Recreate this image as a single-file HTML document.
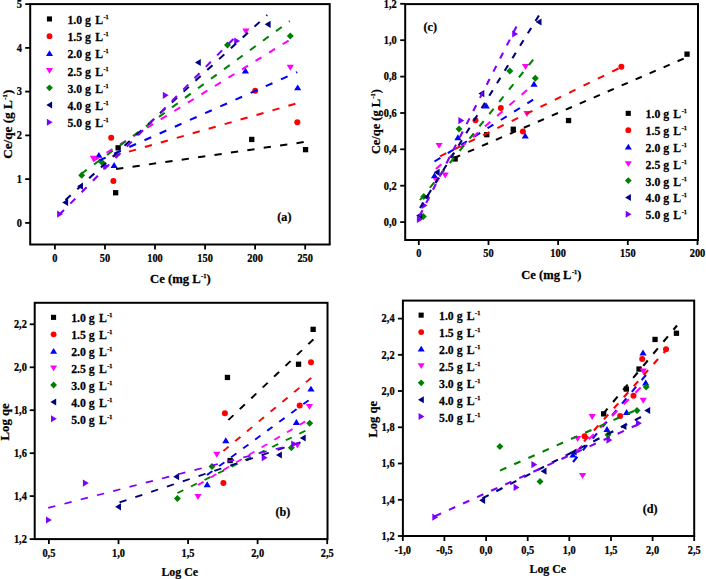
<!DOCTYPE html>
<html><head><meta charset="utf-8"><style>
html,body{margin:0;padding:0;background:#fff;width:706px;height:579px;overflow:hidden}
svg{display:block}
text{font-family:"Liberation Serif",serif;font-weight:bold;fill:#000;stroke:#000;stroke-width:0.25px}
.tk{font-size:11.8px}
.ti{font-size:13.2px}
.pl{font-size:12.5px}
.lg{font-size:12.8px}
.sup{font-size:6.8px}
</style></head><body>
<svg width="706" height="579" viewBox="0 0 706 579">
<rect width="706" height="579" fill="#fff"/>
<rect x="113.0" y="190.1" width="5.3" height="5.3" fill="#000000"/>
<rect x="115.5" y="145.2" width="5.3" height="5.3" fill="#000000"/>
<rect x="249.1" y="136.8" width="5.3" height="5.3" fill="#000000"/>
<rect x="302.9" y="147.0" width="5.3" height="5.3" fill="#000000"/>
<circle cx="111.2" cy="137.8" r="3.0" fill="#FF0000"/>
<circle cx="113.4" cy="181.1" r="3.0" fill="#FF0000"/>
<circle cx="255.2" cy="90.7" r="3.0" fill="#FF0000"/>
<circle cx="297.3" cy="122.2" r="3.0" fill="#FF0000"/>
<path d="M98.9 151.9L102.5 157.8H95.3Z" fill="#0000FF"/>
<path d="M114.1 162.0L117.7 167.9H110.5Z" fill="#0000FF"/>
<path d="M245.4 67.5L249.0 73.4H241.8Z" fill="#0000FF"/>
<path d="M297.7 84.4L301.3 90.3H294.1Z" fill="#0000FF"/>
<path d="M93.4 161.7L97.0 155.8H89.8Z" fill="#FF00FF"/>
<path d="M245.9 34.4L249.5 28.5H242.3Z" fill="#FF00FF"/>
<path d="M290.3 70.7L293.9 64.8H286.7Z" fill="#FF00FF"/>
<path d="M81.7 171.7L85.2 175.2L81.7 178.7L78.2 175.2Z" fill="#008000"/>
<path d="M101.8 158.8L105.3 162.3L101.8 165.8L98.3 162.3Z" fill="#008000"/>
<path d="M227.5 41.4L231.0 44.9L227.5 48.4L224.0 44.9Z" fill="#008000"/>
<path d="M290.3 32.4L293.8 35.9L290.3 39.4L286.8 35.9Z" fill="#008000"/>
<path d="M62.2 202.4L68.1 198.8V206.0Z" fill="#000080"/>
<path d="M77.1 186.2L83.0 182.6V189.8Z" fill="#000080"/>
<path d="M194.9 62.5L200.8 58.9V66.1Z" fill="#000080"/>
<path d="M264.7 24.3L270.6 20.7V27.9Z" fill="#000080"/>
<path d="M63.0 214.1L57.1 210.5V217.7Z" fill="#8000FF"/>
<path d="M109.0 166.2L103.1 162.6V169.8Z" fill="#8000FF"/>
<path d="M168.7 95.3L162.8 91.7V98.9Z" fill="#8000FF"/>
<path d="M240.1 41.0L234.2 37.4V44.6Z" fill="#8000FF"/>
<g transform="scale(1,0.95)" stroke-width="2.1" stroke-dasharray="7.3 9.3">
<line x1="116.1" y1="178.00" x2="303.7" y2="149.58" stroke="#000000" stroke-dasharray="7.294 9.292"/>
<line x1="113" y1="164.42" x2="295.4" y2="109.26" stroke="#FF0000" stroke-dasharray="7.325 9.332"/>
<line x1="99" y1="168.95" x2="297.2" y2="76.00" stroke="#0000FF" stroke-dasharray="7.365 9.382"/>
<line x1="93" y1="169.58" x2="288.6" y2="42.74" stroke="#FF00FF" stroke-dasharray="7.100 9.045"/>
<line x1="81" y1="183.16" x2="289.8" y2="22.21" stroke="#008000" stroke-dasharray="7.218 9.196"/>
<line x1="65.5" y1="210.53" x2="267.2" y2="15.79" stroke="#000080" stroke-dasharray="7.222 9.200"/>
<line x1="59" y1="226.32" x2="233.4" y2="41.05" stroke="#8000FF" stroke-dasharray="7.247 9.232"/>
</g>
<rect x="30.2" y="4.1" width="299.5" height="240.4" fill="none" stroke="#000" stroke-width="2"/>
<line x1="54.9" y1="244.5" x2="54.9" y2="249.5" stroke="#000" stroke-width="1.8"/>
<text transform="translate(54.90,261.90) scale(0.88,1)" class="tk" text-anchor="middle">0</text>
<line x1="105.0" y1="244.5" x2="105.0" y2="249.5" stroke="#000" stroke-width="1.8"/>
<text transform="translate(104.96,261.90) scale(0.88,1)" class="tk" text-anchor="middle">50</text>
<line x1="155.0" y1="244.5" x2="155.0" y2="249.5" stroke="#000" stroke-width="1.8"/>
<text transform="translate(155.02,261.90) scale(0.88,1)" class="tk" text-anchor="middle">100</text>
<line x1="205.1" y1="244.5" x2="205.1" y2="249.5" stroke="#000" stroke-width="1.8"/>
<text transform="translate(205.08,261.90) scale(0.88,1)" class="tk" text-anchor="middle">150</text>
<line x1="255.1" y1="244.5" x2="255.1" y2="249.5" stroke="#000" stroke-width="1.8"/>
<text transform="translate(255.14,261.90) scale(0.88,1)" class="tk" text-anchor="middle">200</text>
<line x1="305.2" y1="244.5" x2="305.2" y2="249.5" stroke="#000" stroke-width="1.8"/>
<text transform="translate(305.20,261.90) scale(0.88,1)" class="tk" text-anchor="middle">250</text>
<line x1="25.2" y1="222.9" x2="30.2" y2="222.9" stroke="#000" stroke-width="1.8"/>
<text transform="translate(22.00,226.70) scale(0.88,1)" class="tk" text-anchor="end">0</text>
<line x1="25.2" y1="179.1" x2="30.2" y2="179.1" stroke="#000" stroke-width="1.8"/>
<text transform="translate(22.00,182.94) scale(0.88,1)" class="tk" text-anchor="end">1</text>
<line x1="25.2" y1="135.4" x2="30.2" y2="135.4" stroke="#000" stroke-width="1.8"/>
<text transform="translate(22.00,139.18) scale(0.88,1)" class="tk" text-anchor="end">2</text>
<line x1="25.2" y1="91.6" x2="30.2" y2="91.6" stroke="#000" stroke-width="1.8"/>
<text transform="translate(22.00,95.42) scale(0.88,1)" class="tk" text-anchor="end">3</text>
<line x1="25.2" y1="47.9" x2="30.2" y2="47.9" stroke="#000" stroke-width="1.8"/>
<text transform="translate(22.00,51.66) scale(0.88,1)" class="tk" text-anchor="end">4</text>
<line x1="25.2" y1="4.1" x2="30.2" y2="4.1" stroke="#000" stroke-width="1.8"/>
<text transform="translate(22.00,7.90) scale(0.88,1)" class="tk" text-anchor="end">5</text>
<text transform="translate(180.40,283.10) scale(0.96,1)" class="ti" text-anchor="middle">Ce (mg L<tspan class="sup" dx="0.5" dy="-5.0">-1</tspan><tspan dy="5.0">)</tspan></text>
<text transform="translate(12.40,124.20) rotate(-90) scale(1.0,1)" class="ti" text-anchor="middle">Ce/qe (g L<tspan class="sup" dx="0.5" dy="-5.0">-1</tspan><tspan dy="5.0">)</tspan></text>
<text transform="translate(284.40,220.60) scale(0.97,1)" class="pl" text-anchor="middle">(a)</text>
<rect x="46.9" y="16.4" width="5.1" height="5.1" fill="#000000"/>
<text transform="translate(67.40,24.00) scale(0.92,1)" class="lg" text-anchor="start">1.0 g <tspan dx="1.4">L</tspan><tspan class="sup" dx="0.5" dy="-5.0">-1</tspan></text>
<circle cx="49.5" cy="36.2" r="2.9" fill="#FF0000"/>
<text transform="translate(67.40,41.20) scale(0.92,1)" class="lg" text-anchor="start">1.5 g <tspan dx="1.4">L</tspan><tspan class="sup" dx="0.5" dy="-5.0">-1</tspan></text>
<path d="M49.5 50.2L53.0 56.0H46.0Z" fill="#0000FF"/>
<text transform="translate(67.40,58.40) scale(0.92,1)" class="lg" text-anchor="start">2.0 g <tspan dx="1.4">L</tspan><tspan class="sup" dx="0.5" dy="-5.0">-1</tspan></text>
<path d="M49.5 73.8L53.0 68.0H46.0Z" fill="#FF00FF"/>
<text transform="translate(67.40,75.60) scale(0.92,1)" class="lg" text-anchor="start">2.5 g <tspan dx="1.4">L</tspan><tspan class="sup" dx="0.5" dy="-5.0">-1</tspan></text>
<path d="M49.5 84.4L52.9 87.8L49.5 91.2L46.1 87.8Z" fill="#008000"/>
<text transform="translate(67.40,92.80) scale(0.92,1)" class="lg" text-anchor="start">3.0 g <tspan dx="1.4">L</tspan><tspan class="sup" dx="0.5" dy="-5.0">-1</tspan></text>
<path d="M46.3 105.0L52.1 101.5V108.5Z" fill="#000080"/>
<text transform="translate(67.40,110.00) scale(0.92,1)" class="lg" text-anchor="start">4.0 g <tspan dx="1.4">L</tspan><tspan class="sup" dx="0.5" dy="-5.0">-1</tspan></text>
<path d="M52.7 122.2L46.9 118.7V125.7Z" fill="#8000FF"/>
<text transform="translate(67.40,127.20) scale(0.92,1)" class="lg" text-anchor="start">5.0 g <tspan dx="1.4">L</tspan><tspan class="sup" dx="0.5" dy="-5.0">-1</tspan></text>
<rect x="452.5" y="156.3" width="5.3" height="5.3" fill="#000000"/>
<rect x="484.1" y="132.0" width="5.3" height="5.3" fill="#000000"/>
<rect x="510.6" y="126.6" width="5.3" height="5.3" fill="#000000"/>
<rect x="565.9" y="117.9" width="5.3" height="5.3" fill="#000000"/>
<rect x="684.4" y="51.5" width="5.3" height="5.3" fill="#000000"/>
<circle cx="475.5" cy="120.2" r="3.0" fill="#FF0000"/>
<circle cx="500.8" cy="108.1" r="3.0" fill="#FF0000"/>
<circle cx="522.9" cy="131.5" r="3.0" fill="#FF0000"/>
<circle cx="621.4" cy="66.7" r="3.0" fill="#FF0000"/>
<path d="M434.5 172.4L438.1 178.3H430.9Z" fill="#0000FF"/>
<path d="M457.9 134.3L461.5 140.2H454.3Z" fill="#0000FF"/>
<path d="M486.2 102.6L489.8 108.5H482.6Z" fill="#0000FF"/>
<path d="M525.2 132.7L528.8 138.6H521.6Z" fill="#0000FF"/>
<path d="M534.0 80.8L537.6 86.7H530.4Z" fill="#0000FF"/>
<path d="M436.6 183.8L440.2 177.9H433.0Z" fill="#FF00FF"/>
<path d="M445.2 178.5L448.8 172.6H441.6Z" fill="#FF00FF"/>
<path d="M439.1 148.8L442.7 142.9H435.5Z" fill="#FF00FF"/>
<path d="M525.5 69.9L529.1 64.0H521.9Z" fill="#FF00FF"/>
<path d="M527.0 116.9L530.6 111.0H523.4Z" fill="#FF00FF"/>
<path d="M423.3 213.1L426.8 216.6L423.3 220.1L419.8 216.6Z" fill="#008000"/>
<path d="M423.8 193.1L427.3 196.6L423.8 200.1L420.3 196.6Z" fill="#008000"/>
<path d="M459.0 125.5L462.5 129.0L459.0 132.5L455.5 129.0Z" fill="#008000"/>
<path d="M509.8 67.5L513.3 71.0L509.8 74.5L506.3 71.0Z" fill="#008000"/>
<path d="M535.3 74.8L538.8 78.3L535.3 81.8L531.8 78.3Z" fill="#008000"/>
<path d="M416.2 215.6L422.1 212.0V219.2Z" fill="#000080"/>
<path d="M423.3 197.1L429.2 193.5V200.7Z" fill="#000080"/>
<path d="M433.7 172.3L439.6 168.7V175.9Z" fill="#000080"/>
<path d="M478.4 93.6L484.3 90.0V97.2Z" fill="#000080"/>
<path d="M535.6 22.0L541.5 18.4V25.6Z" fill="#000080"/>
<path d="M422.8 219.4L416.9 215.8V223.0Z" fill="#8000FF"/>
<path d="M427.6 205.5L421.7 201.9V209.1Z" fill="#8000FF"/>
<path d="M464.3 120.6L458.4 117.0V124.2Z" fill="#8000FF"/>
<path d="M518.1 34.0L512.2 30.4V37.6Z" fill="#8000FF"/>
<g transform="scale(1,0.95)" stroke-width="2.1" stroke-dasharray="6.9 8.8">
<line x1="454" y1="166.32" x2="683.7" y2="61.68" stroke="#000000" stroke-dasharray="6.748 8.606"/>
<line x1="440" y1="164.53" x2="618.5" y2="72.11" stroke="#FF0000" stroke-dasharray="7.102 9.057"/>
<line x1="434.5" y1="170.00" x2="533.2" y2="104.95" stroke="#0000FF" stroke-dasharray="6.983 8.906"/>
<line x1="436" y1="177.89" x2="527" y2="94.74" stroke="#FF00FF" stroke-dasharray="7.282 9.288"/>
<line x1="420" y1="210.53" x2="533.2" y2="62.84" stroke="#008000" stroke-dasharray="7.149 9.117"/>
<line x1="420" y1="218.95" x2="538.9" y2="16.21" stroke="#000080" stroke-dasharray="6.690 8.532"/>
<line x1="419.5" y1="227.37" x2="516.5" y2="27.89" stroke="#8000FF" stroke-dasharray="6.751 8.610"/>
</g>
<rect x="405.2" y="4.1" width="292.8" height="235.9" fill="none" stroke="#000" stroke-width="2"/>
<line x1="418.8" y1="240" x2="418.8" y2="245" stroke="#000" stroke-width="1.8"/>
<text transform="translate(418.80,256.80) scale(0.88,1)" class="tk" text-anchor="middle">0</text>
<line x1="488.5" y1="240" x2="488.5" y2="245" stroke="#000" stroke-width="1.8"/>
<text transform="translate(488.48,256.80) scale(0.88,1)" class="tk" text-anchor="middle">50</text>
<line x1="558.1" y1="240" x2="558.1" y2="245" stroke="#000" stroke-width="1.8"/>
<text transform="translate(558.15,256.80) scale(0.88,1)" class="tk" text-anchor="middle">100</text>
<line x1="627.8" y1="240" x2="627.8" y2="245" stroke="#000" stroke-width="1.8"/>
<text transform="translate(627.83,256.80) scale(0.88,1)" class="tk" text-anchor="middle">150</text>
<line x1="697.5" y1="240" x2="697.5" y2="245" stroke="#000" stroke-width="1.8"/>
<text transform="translate(697.50,256.80) scale(0.88,1)" class="tk" text-anchor="middle">200</text>
<line x1="400.2" y1="222.1" x2="405.2" y2="222.1" stroke="#000" stroke-width="1.8"/>
<text transform="translate(396.80,225.90) scale(0.88,1)" class="tk" text-anchor="end">0,0</text>
<line x1="400.2" y1="185.7" x2="405.2" y2="185.7" stroke="#000" stroke-width="1.8"/>
<text transform="translate(396.80,189.52) scale(0.88,1)" class="tk" text-anchor="end">0,2</text>
<line x1="400.2" y1="149.3" x2="405.2" y2="149.3" stroke="#000" stroke-width="1.8"/>
<text transform="translate(396.80,153.14) scale(0.88,1)" class="tk" text-anchor="end">0,4</text>
<line x1="400.2" y1="113.0" x2="405.2" y2="113.0" stroke="#000" stroke-width="1.8"/>
<text transform="translate(396.80,116.76) scale(0.88,1)" class="tk" text-anchor="end">0,6</text>
<line x1="400.2" y1="76.6" x2="405.2" y2="76.6" stroke="#000" stroke-width="1.8"/>
<text transform="translate(396.80,80.38) scale(0.88,1)" class="tk" text-anchor="end">0,8</text>
<line x1="400.2" y1="40.2" x2="405.2" y2="40.2" stroke="#000" stroke-width="1.8"/>
<text transform="translate(396.80,44.00) scale(0.88,1)" class="tk" text-anchor="end">1,0</text>
<line x1="400.2" y1="3.8" x2="405.2" y2="3.8" stroke="#000" stroke-width="1.8"/>
<text transform="translate(396.80,7.62) scale(0.88,1)" class="tk" text-anchor="end">1,2</text>
<text transform="translate(551.40,279.00) scale(0.95,1)" class="ti" text-anchor="middle">Ce (mg L<tspan class="sup" dx="0.5" dy="-5.0">-1</tspan><tspan dy="5.0">)</tspan></text>
<text transform="translate(379.50,121.60) rotate(-90) scale(0.94,1)" class="ti" text-anchor="middle">Ce/qe (g L<tspan class="sup" dx="0.5" dy="-5.0">-1</tspan><tspan dy="5.0">)</tspan></text>
<text transform="translate(430.20,31.00) scale(0.97,1)" class="pl" text-anchor="middle">(c)</text>
<rect x="625.7" y="110.8" width="5.1" height="5.1" fill="#000000"/>
<text transform="translate(645.60,118.40) scale(0.92,1)" class="lg" text-anchor="start">1.0 g <tspan dx="1.4">L</tspan><tspan class="sup" dx="0.5" dy="-5.0">-1</tspan></text>
<circle cx="628.3" cy="130.2" r="2.9" fill="#FF0000"/>
<text transform="translate(645.60,135.20) scale(0.92,1)" class="lg" text-anchor="start">1.5 g <tspan dx="1.4">L</tspan><tspan class="sup" dx="0.5" dy="-5.0">-1</tspan></text>
<path d="M628.3 143.8L631.8 149.6H624.8Z" fill="#0000FF"/>
<text transform="translate(645.60,152.00) scale(0.92,1)" class="lg" text-anchor="start">2.0 g <tspan dx="1.4">L</tspan><tspan class="sup" dx="0.5" dy="-5.0">-1</tspan></text>
<path d="M628.3 167.0L631.8 161.2H624.8Z" fill="#FF00FF"/>
<text transform="translate(645.60,168.80) scale(0.92,1)" class="lg" text-anchor="start">2.5 g <tspan dx="1.4">L</tspan><tspan class="sup" dx="0.5" dy="-5.0">-1</tspan></text>
<path d="M628.3 177.2L631.7 180.6L628.3 184.0L624.9 180.6Z" fill="#008000"/>
<text transform="translate(645.60,185.60) scale(0.92,1)" class="lg" text-anchor="start">3.0 g <tspan dx="1.4">L</tspan><tspan class="sup" dx="0.5" dy="-5.0">-1</tspan></text>
<path d="M625.1 197.4L630.9 193.9V200.9Z" fill="#000080"/>
<text transform="translate(645.60,202.40) scale(0.92,1)" class="lg" text-anchor="start">4.0 g <tspan dx="1.4">L</tspan><tspan class="sup" dx="0.5" dy="-5.0">-1</tspan></text>
<path d="M631.5 214.2L625.7 210.7V217.7Z" fill="#8000FF"/>
<text transform="translate(645.60,219.20) scale(0.92,1)" class="lg" text-anchor="start">5.0 g <tspan dx="1.4">L</tspan><tspan class="sup" dx="0.5" dy="-5.0">-1</tspan></text>
<rect x="224.8" y="374.8" width="5.3" height="5.3" fill="#000000"/>
<rect x="227.5" y="457.9" width="5.3" height="5.3" fill="#000000"/>
<rect x="295.9" y="361.6" width="5.3" height="5.3" fill="#000000"/>
<rect x="310.5" y="326.7" width="5.3" height="5.3" fill="#000000"/>
<circle cx="224.9" cy="413.2" r="3.0" fill="#FF0000"/>
<circle cx="223.4" cy="483.0" r="3.0" fill="#FF0000"/>
<circle cx="299.7" cy="405.5" r="3.0" fill="#FF0000"/>
<circle cx="311.0" cy="362.3" r="3.0" fill="#FF0000"/>
<path d="M225.8 437.3L229.4 443.2H222.2Z" fill="#0000FF"/>
<path d="M207.2 481.3L210.8 487.2H203.6Z" fill="#0000FF"/>
<path d="M296.4 419.0L300.0 424.9H292.8Z" fill="#0000FF"/>
<path d="M311.0 385.7L314.6 391.6H307.4Z" fill="#0000FF"/>
<path d="M216.8 457.7L220.4 451.8H213.2Z" fill="#FF00FF"/>
<path d="M198.0 500.0L201.6 494.1H194.4Z" fill="#FF00FF"/>
<path d="M309.4 409.8L313.0 403.9H305.8Z" fill="#FF00FF"/>
<path d="M297.4 448.6L301.0 442.7H293.8Z" fill="#FF00FF"/>
<path d="M177.4 495.0L180.9 498.5L177.4 502.0L173.9 498.5Z" fill="#008000"/>
<path d="M212.0 463.0L215.5 466.5L212.0 470.0L208.5 466.5Z" fill="#008000"/>
<path d="M291.4 444.3L294.9 447.8L291.4 451.3L287.9 447.8Z" fill="#008000"/>
<path d="M309.7 419.8L313.2 423.3L309.7 426.8L306.2 423.3Z" fill="#008000"/>
<path d="M115.1 506.8L121.0 503.2V510.4Z" fill="#000080"/>
<path d="M173.2 476.7L179.1 473.1V480.3Z" fill="#000080"/>
<path d="M276.0 455.0L281.9 451.4V458.6Z" fill="#000080"/>
<path d="M299.8 438.0L305.7 434.4V441.6Z" fill="#000080"/>
<path d="M51.9 520.0L46.0 516.4V523.6Z" fill="#8000FF"/>
<path d="M88.8 483.1L82.9 479.5V486.7Z" fill="#8000FF"/>
<path d="M267.6 457.7L261.7 454.1V461.3Z" fill="#8000FF"/>
<path d="M297.1 444.1L291.2 440.5V447.7Z" fill="#8000FF"/>
<g transform="scale(1,0.81)" stroke-width="2.1" stroke-dasharray="7.3 9.3">
<line x1="228.4" y1="518.52" x2="313.4" y2="419.01" stroke="#000000" stroke-dasharray="7.736 9.855"/>
<line x1="223.4" y1="556.79" x2="311.2" y2="466.54" stroke="#FF0000" stroke-dasharray="7.442 9.481"/>
<line x1="207" y1="586.42" x2="308.6" y2="494.20" stroke="#0000FF" stroke-dasharray="7.150 9.108"/>
<line x1="198" y1="598.77" x2="305.3" y2="520.37" stroke="#FF00FF" stroke-dasharray="6.924 8.821"/>
<line x1="177.4" y1="608.77" x2="305.3" y2="531.85" stroke="#008000" stroke-dasharray="6.953 8.858"/>
<line x1="119.5" y1="620.25" x2="300.4" y2="546.05" stroke="#000080" stroke-dasharray="7.516 9.575"/>
<line x1="48.2" y1="627.04" x2="299.2" y2="546.91" stroke="#8000FF" stroke-dasharray="7.504 9.560"/>
</g>
<rect x="34.7" y="302.8" width="292.8" height="236.3" fill="none" stroke="#000" stroke-width="2"/>
<line x1="48.9" y1="539.1" x2="48.9" y2="544.1" stroke="#000" stroke-width="1.8"/>
<text transform="translate(48.90,556.60) scale(0.88,1)" class="tk" text-anchor="middle">0,5</text>
<line x1="118.5" y1="539.1" x2="118.5" y2="544.1" stroke="#000" stroke-width="1.8"/>
<text transform="translate(118.47,556.60) scale(0.88,1)" class="tk" text-anchor="middle">1,0</text>
<line x1="188.1" y1="539.1" x2="188.1" y2="544.1" stroke="#000" stroke-width="1.8"/>
<text transform="translate(188.05,556.60) scale(0.88,1)" class="tk" text-anchor="middle">1,5</text>
<line x1="257.6" y1="539.1" x2="257.6" y2="544.1" stroke="#000" stroke-width="1.8"/>
<text transform="translate(257.62,556.60) scale(0.88,1)" class="tk" text-anchor="middle">2,0</text>
<line x1="327.2" y1="539.1" x2="327.2" y2="544.1" stroke="#000" stroke-width="1.8"/>
<text transform="translate(327.20,556.60) scale(0.88,1)" class="tk" text-anchor="middle">2,5</text>
<line x1="29.700000000000003" y1="539.1" x2="34.7" y2="539.1" stroke="#000" stroke-width="1.8"/>
<text transform="translate(26.90,542.90) scale(0.88,1)" class="tk" text-anchor="end">1,2</text>
<line x1="29.700000000000003" y1="496.1" x2="34.7" y2="496.1" stroke="#000" stroke-width="1.8"/>
<text transform="translate(26.90,499.94) scale(0.88,1)" class="tk" text-anchor="end">1,4</text>
<line x1="29.700000000000003" y1="453.2" x2="34.7" y2="453.2" stroke="#000" stroke-width="1.8"/>
<text transform="translate(26.90,456.98) scale(0.88,1)" class="tk" text-anchor="end">1,6</text>
<line x1="29.700000000000003" y1="410.2" x2="34.7" y2="410.2" stroke="#000" stroke-width="1.8"/>
<text transform="translate(26.90,414.02) scale(0.88,1)" class="tk" text-anchor="end">1,8</text>
<line x1="29.700000000000003" y1="367.3" x2="34.7" y2="367.3" stroke="#000" stroke-width="1.8"/>
<text transform="translate(26.90,371.06) scale(0.88,1)" class="tk" text-anchor="end">2,0</text>
<line x1="29.700000000000003" y1="324.3" x2="34.7" y2="324.3" stroke="#000" stroke-width="1.8"/>
<text transform="translate(26.90,328.10) scale(0.88,1)" class="tk" text-anchor="end">2,2</text>
<text transform="translate(179.70,576.10) scale(0.9,1)" class="ti" text-anchor="middle">Log Ce</text>
<text transform="translate(9.00,421.90) rotate(-90) scale(0.97,1)" class="ti" text-anchor="middle">Log qe</text>
<text transform="translate(282.80,516.00) scale(0.97,1)" class="pl" text-anchor="middle">(b)</text>
<rect x="51.0" y="314.8" width="5.1" height="5.1" fill="#000000"/>
<text transform="translate(71.20,322.40) scale(0.92,1)" class="lg" text-anchor="start">1.0 g <tspan dx="1.4">L</tspan><tspan class="sup" dx="0.5" dy="-5.0">-1</tspan></text>
<circle cx="53.6" cy="334.3" r="2.9" fill="#FF0000"/>
<text transform="translate(71.20,339.30) scale(0.92,1)" class="lg" text-anchor="start">1.5 g <tspan dx="1.4">L</tspan><tspan class="sup" dx="0.5" dy="-5.0">-1</tspan></text>
<path d="M53.6 348.0L57.1 353.8H50.1Z" fill="#0000FF"/>
<text transform="translate(71.20,356.20) scale(0.92,1)" class="lg" text-anchor="start">2.0 g <tspan dx="1.4">L</tspan><tspan class="sup" dx="0.5" dy="-5.0">-1</tspan></text>
<path d="M53.6 371.3L57.1 365.5H50.1Z" fill="#FF00FF"/>
<text transform="translate(71.20,373.10) scale(0.92,1)" class="lg" text-anchor="start">2.5 g <tspan dx="1.4">L</tspan><tspan class="sup" dx="0.5" dy="-5.0">-1</tspan></text>
<path d="M53.6 381.6L57.0 385.0L53.6 388.4L50.2 385.0Z" fill="#008000"/>
<text transform="translate(71.20,390.00) scale(0.92,1)" class="lg" text-anchor="start">3.0 g <tspan dx="1.4">L</tspan><tspan class="sup" dx="0.5" dy="-5.0">-1</tspan></text>
<path d="M50.4 401.9L56.2 398.4V405.4Z" fill="#000080"/>
<text transform="translate(71.20,406.90) scale(0.92,1)" class="lg" text-anchor="start">4.0 g <tspan dx="1.4">L</tspan><tspan class="sup" dx="0.5" dy="-5.0">-1</tspan></text>
<path d="M56.8 418.8L51.0 415.3V422.3Z" fill="#8000FF"/>
<text transform="translate(71.20,423.80) scale(0.92,1)" class="lg" text-anchor="start">5.0 g <tspan dx="1.4">L</tspan><tspan class="sup" dx="0.5" dy="-5.0">-1</tspan></text>
<rect x="601.0" y="411.2" width="5.3" height="5.3" fill="#000000"/>
<rect x="623.7" y="386.4" width="5.3" height="5.3" fill="#000000"/>
<rect x="636.4" y="366.4" width="5.3" height="5.3" fill="#000000"/>
<rect x="652.4" y="336.8" width="5.3" height="5.3" fill="#000000"/>
<rect x="673.8" y="330.6" width="5.3" height="5.3" fill="#000000"/>
<circle cx="584.5" cy="436.2" r="3.0" fill="#FF0000"/>
<circle cx="620.1" cy="416.0" r="3.0" fill="#FF0000"/>
<circle cx="633.5" cy="395.7" r="3.0" fill="#FF0000"/>
<circle cx="642.2" cy="359.1" r="3.0" fill="#FF0000"/>
<circle cx="666.0" cy="349.3" r="3.0" fill="#FF0000"/>
<path d="M573.0 451.7L576.6 457.6H569.4Z" fill="#0000FF"/>
<path d="M607.0 426.1L610.6 432.0H603.4Z" fill="#0000FF"/>
<path d="M626.6 409.0L630.2 414.9H623.0Z" fill="#0000FF"/>
<path d="M645.7 379.5L649.3 385.4H642.1Z" fill="#0000FF"/>
<path d="M643.0 349.6L646.6 355.5H639.4Z" fill="#0000FF"/>
<path d="M582.6 479.0L586.2 473.1H579.0Z" fill="#FF00FF"/>
<path d="M577.6 442.0L581.2 436.1H574.0Z" fill="#FF00FF"/>
<path d="M592.2 419.9L595.8 414.0H588.6Z" fill="#FF00FF"/>
<path d="M643.2 403.7L646.8 397.8H639.6Z" fill="#FF00FF"/>
<path d="M643.2 374.4L646.8 368.5H639.6Z" fill="#FF00FF"/>
<path d="M499.9 442.9L503.4 446.4L499.9 449.9L496.4 446.4Z" fill="#008000"/>
<path d="M540.0 478.0L543.5 481.5L540.0 485.0L536.5 481.5Z" fill="#008000"/>
<path d="M608.0 431.3L611.5 434.8L608.0 438.3L604.5 434.8Z" fill="#008000"/>
<path d="M637.0 407.0L640.5 410.5L637.0 414.0L633.5 410.5Z" fill="#008000"/>
<path d="M646.2 383.5L649.7 387.0L646.2 390.5L642.7 387.0Z" fill="#008000"/>
<path d="M479.2 500.3L485.1 496.7V503.9Z" fill="#000080"/>
<path d="M540.6 471.2L546.5 467.6V474.8Z" fill="#000080"/>
<path d="M570.7 452.0L576.6 448.4V455.6Z" fill="#000080"/>
<path d="M620.5 426.4L626.4 422.8V430.0Z" fill="#000080"/>
<path d="M644.3 410.5L650.2 406.9V414.1Z" fill="#000080"/>
<path d="M438.2 517.2L432.3 513.6V520.8Z" fill="#8000FF"/>
<path d="M519.5 487.4L513.6 483.8V491.0Z" fill="#8000FF"/>
<path d="M537.3 464.6L531.4 461.0V468.2Z" fill="#8000FF"/>
<path d="M612.4 440.1L606.5 436.5V443.7Z" fill="#8000FF"/>
<path d="M641.9 423.2L636.0 419.6V426.8Z" fill="#8000FF"/>
<g transform="scale(1,1.0)" stroke-width="2.1" stroke-dasharray="6.9 8.6">
<line x1="603" y1="414.00" x2="677" y2="325.50" stroke="#000000" stroke-dasharray="6.987 8.708"/>
<line x1="584" y1="441.50" x2="668" y2="348.00" stroke="#FF0000" stroke-dasharray="6.625 8.258"/>
<line x1="573" y1="462.00" x2="646" y2="375.00" stroke="#0000FF" stroke-dasharray="6.791 8.464"/>
<line x1="577" y1="451.00" x2="640.6" y2="387.50" stroke="#FF00FF" stroke-dasharray="7.347 9.158"/>
<line x1="500" y1="470.60" x2="634" y2="411.00" stroke="#008000" stroke-dasharray="6.912 8.615"/>
<line x1="482.5" y1="498.30" x2="641" y2="417.00" stroke="#000080" stroke-dasharray="6.929 8.636"/>
<line x1="434.9" y1="516.20" x2="638" y2="424.50" stroke="#8000FF" stroke-dasharray="6.867 8.559"/>
</g>
<rect x="402.9" y="300.6" width="291.30000000000007" height="235.39999999999998" fill="none" stroke="#000" stroke-width="2"/>
<line x1="402.8" y1="536" x2="402.8" y2="541" stroke="#000" stroke-width="1.8"/>
<text transform="translate(402.80,553.50) scale(0.88,1)" class="tk" text-anchor="middle">-1,0</text>
<line x1="444.4" y1="536" x2="444.4" y2="541" stroke="#000" stroke-width="1.8"/>
<text transform="translate(444.43,553.50) scale(0.88,1)" class="tk" text-anchor="middle">-0,5</text>
<line x1="486.1" y1="536" x2="486.1" y2="541" stroke="#000" stroke-width="1.8"/>
<text transform="translate(486.06,553.50) scale(0.88,1)" class="tk" text-anchor="middle">0,0</text>
<line x1="527.7" y1="536" x2="527.7" y2="541" stroke="#000" stroke-width="1.8"/>
<text transform="translate(527.69,553.50) scale(0.88,1)" class="tk" text-anchor="middle">0,5</text>
<line x1="569.3" y1="536" x2="569.3" y2="541" stroke="#000" stroke-width="1.8"/>
<text transform="translate(569.32,553.50) scale(0.88,1)" class="tk" text-anchor="middle">1,0</text>
<line x1="611.0" y1="536" x2="611.0" y2="541" stroke="#000" stroke-width="1.8"/>
<text transform="translate(610.95,553.50) scale(0.88,1)" class="tk" text-anchor="middle">1,5</text>
<line x1="652.6" y1="536" x2="652.6" y2="541" stroke="#000" stroke-width="1.8"/>
<text transform="translate(652.58,553.50) scale(0.88,1)" class="tk" text-anchor="middle">2,0</text>
<line x1="694.2" y1="536" x2="694.2" y2="541" stroke="#000" stroke-width="1.8"/>
<text transform="translate(694.21,553.50) scale(0.88,1)" class="tk" text-anchor="middle">2,5</text>
<line x1="397.9" y1="536.0" x2="402.9" y2="536.0" stroke="#000" stroke-width="1.8"/>
<text transform="translate(394.60,539.80) scale(0.88,1)" class="tk" text-anchor="end">1,2</text>
<line x1="397.9" y1="499.8" x2="402.9" y2="499.8" stroke="#000" stroke-width="1.8"/>
<text transform="translate(394.60,503.56) scale(0.88,1)" class="tk" text-anchor="end">1,4</text>
<line x1="397.9" y1="463.5" x2="402.9" y2="463.5" stroke="#000" stroke-width="1.8"/>
<text transform="translate(394.60,467.32) scale(0.88,1)" class="tk" text-anchor="end">1,6</text>
<line x1="397.9" y1="427.3" x2="402.9" y2="427.3" stroke="#000" stroke-width="1.8"/>
<text transform="translate(394.60,431.08) scale(0.88,1)" class="tk" text-anchor="end">1,8</text>
<line x1="397.9" y1="391.0" x2="402.9" y2="391.0" stroke="#000" stroke-width="1.8"/>
<text transform="translate(394.60,394.84) scale(0.88,1)" class="tk" text-anchor="end">2,0</text>
<line x1="397.9" y1="354.8" x2="402.9" y2="354.8" stroke="#000" stroke-width="1.8"/>
<text transform="translate(394.60,358.60) scale(0.88,1)" class="tk" text-anchor="end">2,2</text>
<line x1="397.9" y1="318.6" x2="402.9" y2="318.6" stroke="#000" stroke-width="1.8"/>
<text transform="translate(394.60,322.36) scale(0.88,1)" class="tk" text-anchor="end">2,4</text>
<text transform="translate(547.80,572.70) scale(0.9,1)" class="ti" text-anchor="middle">Log Ce</text>
<text transform="translate(376.60,419.30) rotate(-90) scale(0.95,1)" class="ti" text-anchor="middle">Log qe</text>
<text transform="translate(650.20,512.50) scale(0.97,1)" class="pl" text-anchor="middle">(d)</text>
<rect x="418.6" y="312.6" width="5.1" height="5.1" fill="#000000"/>
<text transform="translate(439.00,320.20) scale(0.92,1)" class="lg" text-anchor="start">1.0 g <tspan dx="1.4">L</tspan><tspan class="sup" dx="0.5" dy="-5.0">-1</tspan></text>
<circle cx="421.2" cy="332.1" r="2.9" fill="#FF0000"/>
<text transform="translate(439.00,337.10) scale(0.92,1)" class="lg" text-anchor="start">1.5 g <tspan dx="1.4">L</tspan><tspan class="sup" dx="0.5" dy="-5.0">-1</tspan></text>
<path d="M421.2 345.8L424.7 351.6H417.7Z" fill="#0000FF"/>
<text transform="translate(439.00,354.00) scale(0.92,1)" class="lg" text-anchor="start">2.0 g <tspan dx="1.4">L</tspan><tspan class="sup" dx="0.5" dy="-5.0">-1</tspan></text>
<path d="M421.2 369.1L424.7 363.3H417.7Z" fill="#FF00FF"/>
<text transform="translate(439.00,370.90) scale(0.92,1)" class="lg" text-anchor="start">2.5 g <tspan dx="1.4">L</tspan><tspan class="sup" dx="0.5" dy="-5.0">-1</tspan></text>
<path d="M421.2 379.4L424.6 382.8L421.2 386.2L417.8 382.8Z" fill="#008000"/>
<text transform="translate(439.00,387.80) scale(0.92,1)" class="lg" text-anchor="start">3.0 g <tspan dx="1.4">L</tspan><tspan class="sup" dx="0.5" dy="-5.0">-1</tspan></text>
<path d="M418.0 399.7L423.8 396.2V403.2Z" fill="#000080"/>
<text transform="translate(439.00,404.70) scale(0.92,1)" class="lg" text-anchor="start">4.0 g <tspan dx="1.4">L</tspan><tspan class="sup" dx="0.5" dy="-5.0">-1</tspan></text>
<path d="M424.4 416.6L418.6 413.1V420.1Z" fill="#8000FF"/>
<text transform="translate(439.00,421.60) scale(0.92,1)" class="lg" text-anchor="start">5.0 g <tspan dx="1.4">L</tspan><tspan class="sup" dx="0.5" dy="-5.0">-1</tspan></text>
</svg></body></html>
